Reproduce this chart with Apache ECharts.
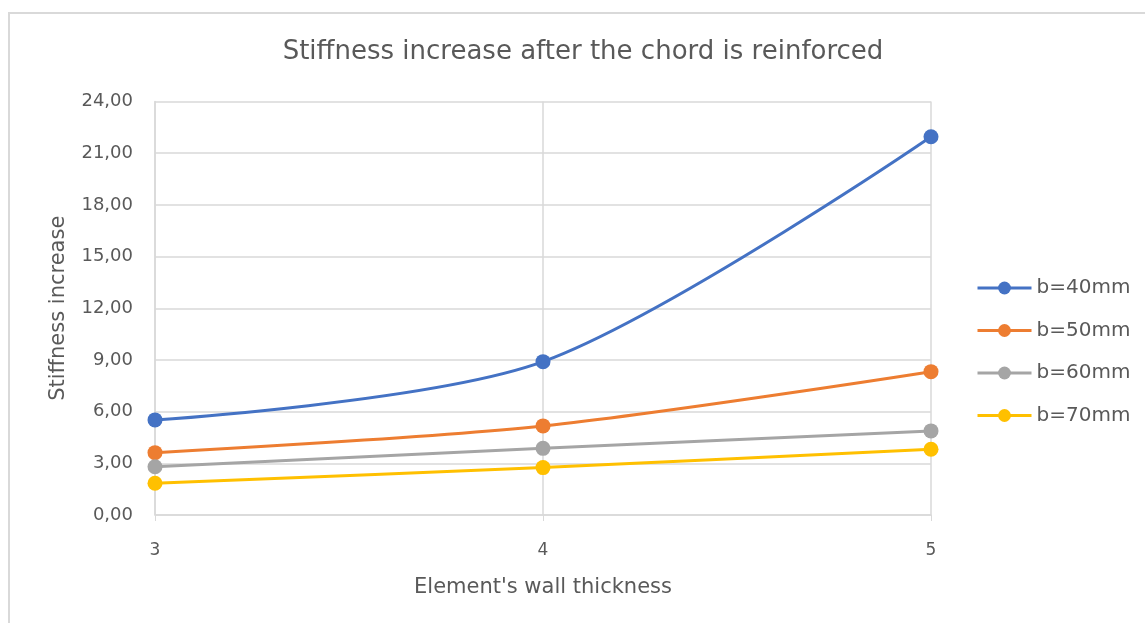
<!DOCTYPE html>
<html>
<head>
<meta charset="utf-8">
<script src="https://cdn.jsdelivr.net/npm/echarts@6/dist/echarts.min.js"></script>
<style>
html,body{margin:0;padding:0;background:#fff;}
#chart{width:1145px;height:623px;}
#frame{position:absolute;left:8px;top:12px;width:1200px;height:700px;border-left:2px solid #d9d9d9;border-top:2px solid #d9d9d9;pointer-events:none;}
</style>
</head>
<body>
<div id="chart"></div>
<div id="frame"></div>
<script>
const categories = ['3', '4', '5'];
const seriesNames = ['b=40mm', 'b=50mm', 'b=60mm', 'b=70mm'];
const b40 = [5.52, 8.90, 21.95];
const b50 = [3.62, 5.17, 8.32];
const b60 = [2.80, 3.87, 4.88];
const b70 = [1.84, 2.75, 3.82];
const yTicks = { min: 0, max: 24, interval: 3 };
const colors = ['#4472c4', '#ed7d31', '#a5a5a5', '#ffc000'];

const font = 'DejaVu Sans, Liberation Sans, sans-serif';
const values = [b40, b50, b60, b70];

const chart = echarts.init(document.getElementById('chart'));
chart.setOption({
  animation: false,
  color: colors,
  title: {
    text: 'Stiffness increase after the chord is reinforced',
    left: 578, top: 34, textAlign: 'center',
    textStyle: { fontFamily: font, fontSize: 26, fontWeight: 'normal', color: '#595959' }
  },
  legend: {
    orient: 'vertical', left: 971, top: 272, itemGap: 20.5,
    itemWidth: 54, itemHeight: 16,
    lineStyle: { width: 3 },
    textStyle: { fontFamily: font, fontSize: 20, lineHeight: 22, color: '#595959' },
    data: seriesNames
  },
  grid: { left: 155, right: 214, top: 101.5, bottom: 108, containLabel: false },
  xAxis: {
    type: 'category', data: categories, boundaryGap: false,
    name: "Element's wall thickness", nameLocation: 'middle', nameGap: 62,
    nameTextStyle: { fontFamily: font, fontSize: 21, color: '#595959' },
    axisLine: { lineStyle: { color: '#d9d9d9', width: 1.5 } },
    axisTick: { show: true, length: 6, lineStyle: { color: '#d9d9d9' } },
    axisLabel: { fontFamily: font, fontSize: 17, color: '#595959', margin: 27 },
    splitLine: { show: true, lineStyle: { color: '#d9d9d9', width: 1.5 } }
  },
  yAxis: {
    type: 'value', min: yTicks.min, max: yTicks.max, interval: yTicks.interval,
    name: 'Stiffness increase', nameLocation: 'middle', nameGap: 86,
    nameTextStyle: { fontFamily: font, fontSize: 21, color: '#595959' },
    axisLine: { show: true, lineStyle: { color: '#d9d9d9', width: 1.5 } },
    axisTick: { show: false },
    axisLabel: { fontFamily: font, fontSize: 18, color: '#595959', margin: 22,
      formatter: v => v.toFixed(2).replace('.', ',') },
    splitLine: { lineStyle: { color: '#d9d9d9', width: 1.5 } }
  },
  series: seriesNames.map((n, i) => ({
    name: n, type: 'line', data: values[i], smooth: 0.3,
    symbol: 'circle', symbolSize: 15,
    lineStyle: { width: 3, color: colors[i] },
    itemStyle: { color: colors[i] }
  }))
});
</script>
</body>
</html>
